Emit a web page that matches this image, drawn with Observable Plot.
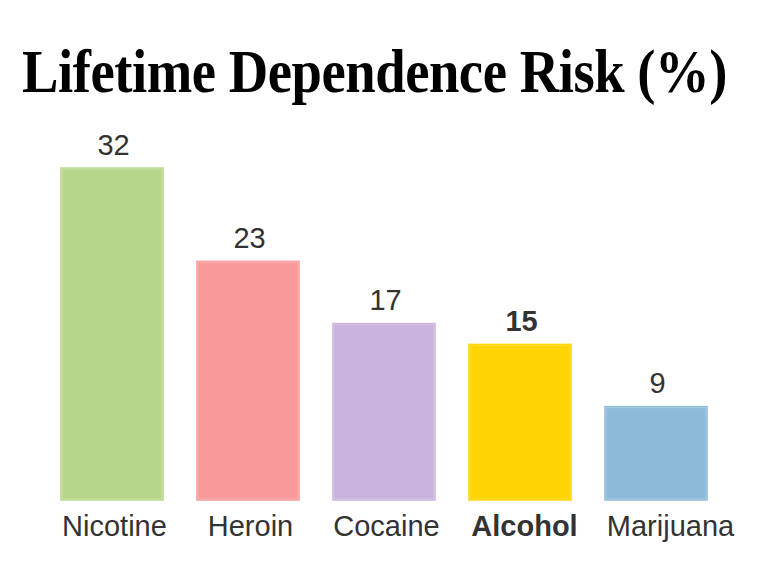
<!DOCTYPE html>
<html>
<head>
<meta charset="utf-8">
<script src="https://cdn.jsdelivr.net/npm/d3@7"></script>
<script src="https://cdn.jsdelivr.net/npm/@observablehq/plot@0.6"></script>
<style>
  html, body { margin: 0; padding: 0; background: #fff; }
  #wrap { position: relative; width: 768px; height: 571px; overflow: hidden; }
  #title { position: absolute; left: 22px; top: 40px; margin: 0; white-space: nowrap;
    font-family: "Liberation Serif", "DejaVu Serif", serif; font-weight: bold;
    font-size: 62px; line-height: 1; color: #000; display: inline-block; transform-origin: 0 0; letter-spacing: -0.5px; }
  #chart { position: absolute; left: 0; top: 110px; }
</style>
</head>
<body>
<div id="wrap">
  <div id="title">Lifetime Dependence Risk (%)</div>
  <div id="chart"></div>
</div>
<script>
const drugs = ["Nicotine", "Heroin", "Cocaine", "Alcohol", "Marijuana"];
const risk = [32, 23, 17, 15, 9];
const palette = ["#b8d68b", "#f99a9a", "#c9b3de", "#ffd400", "#8ebad9"];
const highlight = "Alcohol";

const data = drugs.map((d, i) => ({drug: d, value: risk[i]}));

const t = document.getElementById("title");
const w = t.getBoundingClientRect().width;
t.style.transform = `scaleX(${705 / w})`;

const font = "'Liberation Sans', Arial, sans-serif";
const axisOpts = {tickSize: 0, tickPadding: 15, fontSize: 29, fill: "#333", label: null};
const plot = Plot.plot({
  width: 768,
  height: 461,
  marginLeft: 44,
  marginRight: 44,
  marginTop: 58,
  marginBottom: 71,
  style: {fontFamily: font, background: "transparent"},
  x: {domain: drugs, paddingInner: 0.25, paddingOuter: 0.125, label: null},
  y: {domain: [0, 32], axis: null},
  color: {domain: drugs, range: palette},
  marks: [
    Plot.barY(data, {x: "drug", y: "value", fill: "drug", stroke: "drug", strokeWidth: 1.5}),
    Plot.barY(data, {x: "drug", y: "value", fill: "none", stroke: "#fff", strokeOpacity: 0.25, strokeWidth: 1, inset: 1}),
    Plot.text(data.filter(d => d.drug !== highlight), {x: "drug", y: "value", text: d => String(d.value), lineAnchor: "bottom", dy: -14, dx: 1, fontSize: 29, fill: "#333"}),
    Plot.text(data.filter(d => d.drug === highlight), {x: "drug", y: "value", text: d => String(d.value), lineAnchor: "bottom", dy: -14, dx: 1, fontSize: 29, fill: "#333", fontWeight: "bold"}),
    Plot.axisX(["Nicotine", "Heroin", "Cocaine"], {...axisOpts, dx: 2}),
    Plot.axisX([highlight], {...axisOpts, dx: 4, fontWeight: "bold"}),
    Plot.axisX(["Marijuana"], {...axisOpts, dx: 14})
  ]
});
document.getElementById("chart").appendChild(plot);
</script>
</body>
</html>
